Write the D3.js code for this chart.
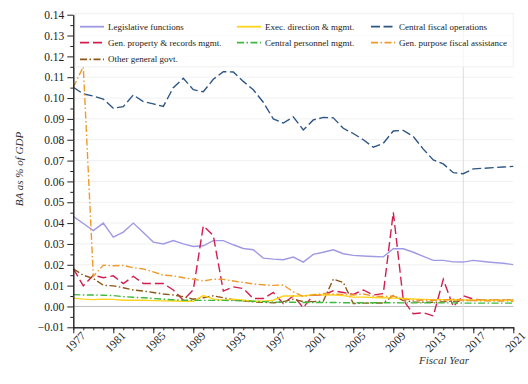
<!DOCTYPE html>
<html>
<head>
<meta charset="utf-8">
<script src="https://cdn.jsdelivr.net/npm/d3@7"></script>
<style>
  body { margin: 0; background: white; }
  text { font-family: "Liberation Serif", "DejaVu Serif", serif; }
</style>
</head>
<body>
<div id="chart"></div>
<script>
// fiscal years
let years = d3.range(1977, 2022);

let legislative = [0.0432,0.0398,0.0364,0.0400,0.0333,0.0357,0.0400,0.0355,0.0309,0.0300,
  0.0316,0.0300,0.0288,0.0291,0.0316,0.0316,0.0296,0.0278,0.0272,0.0232,
  0.0227,0.0224,0.0237,0.0213,0.0250,0.0260,0.0272,0.0253,0.0245,0.0242,
  0.0240,0.0238,0.0277,0.0277,0.0260,0.0240,0.0221,0.0221,0.0214,0.0213,
  0.0221,0.0216,0.0211,0.0207,0.0201];
let genProperty = [0.0182,0.0099,0.0150,0.0138,0.0147,0.0110,0.0145,0.0110,0.0110,0.0110,
  0.0079,0.0030,0.0080,0.0387,0.0340,0.0074,0.0094,0.0086,0.0038,0.0038,
  0.0067,0.0014,0.0050,-0.0006,0.0055,0.0055,0.0075,0.0067,0.0058,0.0079,
  0.0055,0.0062,0.0452,0.0030,-0.0035,-0.0030,-0.0045,0.0130,-0.0001,0.0051,
  0.0035,0.0030,0.0030,0.0030,0.0030];
let otherGeneral = [0.0180,0.0150,0.0134,0.0102,0.0099,0.0090,0.0079,0.0074,0.0067,0.0060,
  0.0055,0.0047,0.0035,0.0042,0.0051,0.0042,0.0032,0.0027,0.0022,0.0020,
  0.0017,0.0023,0.0035,0.0023,0.0023,0.0026,0.0131,0.0115,0.0014,0.0016,
  0.0016,0.0017,0.0052,0.0028,0.0022,0.0020,0.0020,0.0022,0.0025,0.0028,
  0.0030,0.0030,0.0030,0.0030,0.0030];
let execDirection = [0.0040,0.0035,0.0033,0.0035,0.0034,0.0030,0.0030,0.0030,0.0028,0.0027,
  0.0026,0.0025,0.0025,0.0052,0.0035,0.0030,0.0035,0.0030,0.0025,0.0025,
  0.0030,0.0050,0.0050,0.0050,0.0058,0.0055,0.0055,0.0052,0.0045,0.0045,
  0.0043,0.0042,0.0040,0.0038,0.0036,0.0034,0.0033,0.0033,0.0032,0.0031,
  0.0031,0.0030,0.0030,0.0030,0.0030];
let centralPersonnel = [0.0057,0.0055,0.0055,0.0054,0.0052,0.0047,0.0044,0.0042,0.0038,0.0035,
  0.0032,0.0030,0.0030,0.0029,0.0029,0.0029,0.0028,0.0027,0.0025,0.0023,
  0.0021,0.0020,0.0020,0.0019,0.0019,0.0019,0.0019,0.0018,0.0018,0.0018,
  0.0018,0.0018,0.0018,0.0017,0.0017,0.0017,0.0017,0.0017,0.0017,0.0016,
  0.0016,0.0016,0.0016,0.0016,0.0016];
let centralFiscal = [0.1052,0.1020,0.1010,0.0995,0.0951,0.0959,0.1015,0.0983,0.0972,0.0960,
  0.1050,0.1095,0.1040,0.1030,0.1090,0.1127,0.1125,0.1080,0.1040,0.0980,
  0.0900,0.0880,0.0910,0.0847,0.0895,0.0907,0.0905,0.0855,0.0830,0.0800,
  0.0764,0.0783,0.0842,0.0845,0.0815,0.0755,0.0703,0.0684,0.0642,0.0637,
  0.0660,0.0663,0.0666,0.0669,0.0672];
let fiscalAssistance = [0.1052,0.1150,0.0145,0.0198,0.0195,0.0197,0.0186,0.0180,0.0166,0.0150,
  0.0147,0.0138,0.0131,0.0122,0.0131,0.0130,0.0122,0.0115,0.0108,0.0104,
  0.0101,0.0103,0.0070,0.0048,0.0055,0.0062,0.0060,0.0058,0.0055,0.0060,
  0.0050,0.0048,0.0050,0.0035,0.0030,0.0030,0.0030,0.0030,0.0035,0.0030,
  0.0028,0.0027,0.0026,0.0026,0.0025];

let yTicks = d3.range(-0.01, 0.1401, 0.01);
let xTickYears = d3.range(1977, 2022, 4);

let series = [
  {name: "Legislative functions", values: legislative, color: "#a09ae6", dash: null, col: 0, row: 0},
  {name: "Gen. property & records mgmt.", values: genProperty, color: "#d21e4f", dash: "9,4", col: 0, row: 1},
  {name: "Other general govt.", values: otherGeneral, color: "#8e5618", dash: "7,2.5,1.5,2.5", col: 0, row: 2},
  {name: "Exec. direction & mgmt.", values: execDirection, color: "#ffd31c", dash: null, col: 1, row: 0},
  {name: "Central personnel mgmt.", values: centralPersonnel, color: "#3cba3c", dash: "7,2.5,1.5,2.5", col: 1, row: 1},
  {name: "Central fiscal operations", values: centralFiscal, color: "#2d5684", dash: "9,3.5", col: 2, row: 0},
  {name: "Gen. purpose fiscal assistance", values: fiscalAssistance, color: "#f1992c", dash: "7,2.5,1.5,2.5", col: 2, row: 1}
];

let width = 528, height = 384;
let margin = {left: 73.3, right: 14.7, top: 14.7, bottom: 56.7};

let svg = d3.select("#chart").append("svg")
  .attr("width", width)
  .attr("height", height);

let x = d3.scaleLinear().domain([1977, 2021]).range([margin.left, width - margin.right]);
let y = d3.scaleLinear().domain([-0.01, 0.14]).range([height - margin.bottom, margin.top]);

// faint grid
svg.append("g").selectAll("line")
  .data(yTicks)
  .join("line")
  .attr("x1", x(1977)).attr("x2", x(2021))
  .attr("y1", d => y(d)).attr("y2", d => y(d))
  .attr("stroke", d => Math.abs(d) < 1e-9 ? "#bdbdbd" : "#f1f1f1")
  .attr("stroke-width", 1);

// marker at 2016
svg.append("line")
  .attr("x1", x(2016)).attr("x2", x(2016))
  .attr("y1", y(0.14)).attr("y2", y(-0.01))
  .attr("stroke", "#dddddd").attr("stroke-width", 1);

let line = d3.line()
  .x((d, i) => x(years[i]))
  .y(d => y(d));

svg.append("g").selectAll("path")
  .data(series)
  .join("path")
  .attr("d", d => line(d.values))
  .attr("fill", "none")
  .attr("stroke", d => d.color)
  .attr("stroke-width", 1.4)
  .attr("stroke-dasharray", d => d.dash);

// axes
let yAxis = svg.append("g")
  .attr("transform", "translate(" + margin.left + ",0)")
  .call(d3.axisLeft(y).tickValues(yTicks).tickFormat(d3.format(".2f")).tickSize(6).tickSizeOuter(0));
svg.append("g")
  .attr("transform", "translate(" + margin.left + ",0)")
  .call(d3.axisLeft(y).tickValues(d3.range(-0.005, 0.14, 0.01)).tickFormat("").tickSize(3).tickSizeOuter(0));

let xAxis = svg.append("g")
  .attr("transform", "translate(0," + y(-0.01) + ")")
  .call(d3.axisBottom(x).tickValues(xTickYears).tickFormat(d3.format("d")).tickSize(6).tickSizeOuter(0));
svg.append("g")
  .attr("transform", "translate(0," + y(-0.01) + ")")
  .call(d3.axisBottom(x).tickValues(years).tickFormat("").tickSize(3).tickSizeOuter(0));

svg.selectAll(".domain").attr("stroke", "#222");
svg.selectAll(".tick line").attr("stroke", "#222");

yAxis.selectAll("text")
  .attr("font-size", 11.5)
  .attr("fill", "#222")
  .attr("font-family", "Liberation Serif");

xAxis.selectAll("text")
  .attr("font-size", 11.5)
  .attr("fill", "#222")
  .attr("font-family", "Liberation Serif")
  .attr("text-anchor", "end")
  .attr("dx", "0.2em")
  .attr("dy", "0.55em")
  .attr("transform", "rotate(-45)");

// axis titles
svg.append("text")
  .text("BA as % of GDP")
  .attr("transform", "translate(23,169) rotate(-90)")
  .attr("text-anchor", "middle")
  .attr("font-style", "italic")
  .attr("font-size", 11)
  .attr("fill", "#333");

svg.append("text")
  .text("Fiscal Year")
  .attr("x", 444)
  .attr("y", 364)
  .attr("text-anchor", "middle")
  .attr("font-style", "italic")
  .attr("font-size", 11)
  .attr("fill", "#333");

// legend
let legend = svg.append("g");
legend.append("rect")
  .attr("x", x(1977) + 2).attr("y", 13.3)
  .attr("width", x(2021) - x(1977) - 2).attr("height", 53.5)
  .attr("fill", "white").attr("fill-opacity", 0.75)
  .attr("stroke", "#f0f0f0");

let colX = [80, 237, 371];
let rowY = [26.7, 42.7, 59.3];

let item = legend.selectAll("g.item")
  .data(series)
  .join("g")
  .attr("class", "item")
  .attr("transform", d => "translate(" + colX[d.col] + "," + rowY[d.row] + ")");

item.append("line")
  .attr("x1", 0).attr("x2", 24)
  .attr("stroke", d => d.color)
  .attr("stroke-width", 1.8)
  .attr("stroke-dasharray", d => d.dash);

item.append("text")
  .text(d => d.name)
  .attr("x", 28)
  .attr("dy", "0.33em")
  .attr("font-size", 9)
  .attr("fill", "#222");
</script>
</body>
</html>
